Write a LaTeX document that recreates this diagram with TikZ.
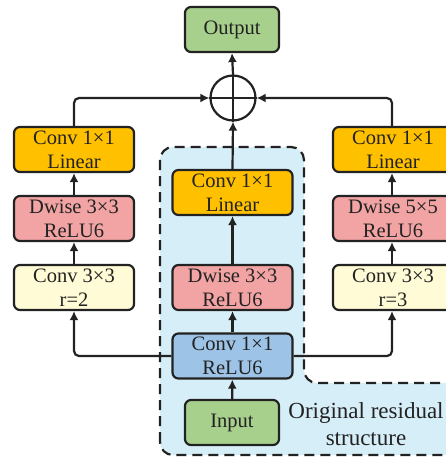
\documentclass[tikz,border=0pt]{standalone}
\usepackage{fontspec}
\setmainfont{Liberation Serif}
\usetikzlibrary{arrows.meta}
\definecolor{cgreen}{HTML}{A8D08D}
\definecolor{corange}{HTML}{FFC000}
\definecolor{cpink}{HTML}{F2A3A3}
\definecolor{cyellow}{HTML}{FFFBD6}
\definecolor{cblue}{HTML}{9DC3E6}
\definecolor{cbg}{HTML}{D6EEF8}
\definecolor{cline}{HTML}{222222}
\tikzset{
  blk/.style={draw=cline, line width=2.2pt, rounded corners=6pt, minimum width=120pt, minimum height=45pt, align=center, inner sep=0pt, text=cline, font=\fontsize{20.5}{24}\selectfont},
  io/.style={blk, minimum width=94pt, fill=cgreen},
  conn/.style={draw=cline, line width=2.2pt, rounded corners=5pt, -{Latex[length=9pt,width=9pt]}},
}
\begin{document}
\begin{tikzpicture}[x=1pt,y=-1pt]
\useasboundingbox (0,0) rectangle (446,457);
% background region
\draw[fill=cbg, draw=cline, line width=2.2pt, dash pattern=on 10pt off 6pt, rounded corners=13pt]
  (160,455) -- (160,147) -- (304,147) -- (304,383) -- (470,383) -- (470,455) -- cycle;
% nodes
\node[io] (out) at (232,29.5) {Output};
\node[draw=cline, line width=2.2pt, circle, minimum size=45pt, inner sep=0pt] (sum) at (233,98) {};
\draw[cline, line width=2.2pt] (sum.north) -- (sum.south) (sum.west) -- (sum.east);

\node[blk, fill=corange] (l1) at (74,149.5) {Conv 1×1\\Linear};
\node[blk, fill=cpink] (l2) at (74,218.5) {Dwise 3×3\\ReLU6};
\node[blk, fill=cyellow] (l3) at (74,287.5) {Conv 3×3\\r=2};

\node[blk, fill=corange] (r1) at (393,149.5) {Conv 1×1\\Linear};
\node[blk, fill=cpink] (r2) at (393,218.5) {Dwise 5×5\\ReLU6};
\node[blk, fill=cyellow] (r3) at (393,287.5) {Conv 3×3\\r=3};

\node[blk, fill=corange] (c1) at (232.5,192.5) {Conv 1×1\\Linear};
\node[blk, fill=cpink] (c2) at (232.5,287.5) {Dwise 3×3\\ReLU6};
\node[blk, fill=cblue] (c3) at (232.5,356) {Conv 1×1\\ReLU6};
\node[io] (in) at (232,422.5) {Input};

\node[align=center, text=cline, font=\fontsize{23}{27}\selectfont, inner sep=0pt] (lab) at (366,424) {Original residual\\structure};

% connectors
\draw[conn] (sum.north) -- (out.south);
\draw[conn] (c1.north) -- (sum.south);
\draw[conn] (l1.north) |- (sum.west);
\draw[conn] ([xshift=-1pt]r1.north) |- (sum.east);
\draw[conn] (l3) -- (l2);
\draw[conn] (l2) -- (l1);
\draw[conn] ([xshift=-1pt]r3.north) -- ([xshift=-1pt]r2.south);
\draw[conn] ([xshift=-1pt]r2.north) -- ([xshift=-1pt]r1.south);
\draw[conn] (c2) -- (c1);
\draw[conn] (c3) -- (c2);
\draw[conn] (in) -- (c3);
\draw[conn] (c3.west) -| (l3.south);
\draw[conn] (c3.east) -| ([xshift=-1pt]r3.south);
\end{tikzpicture}
\end{document}
